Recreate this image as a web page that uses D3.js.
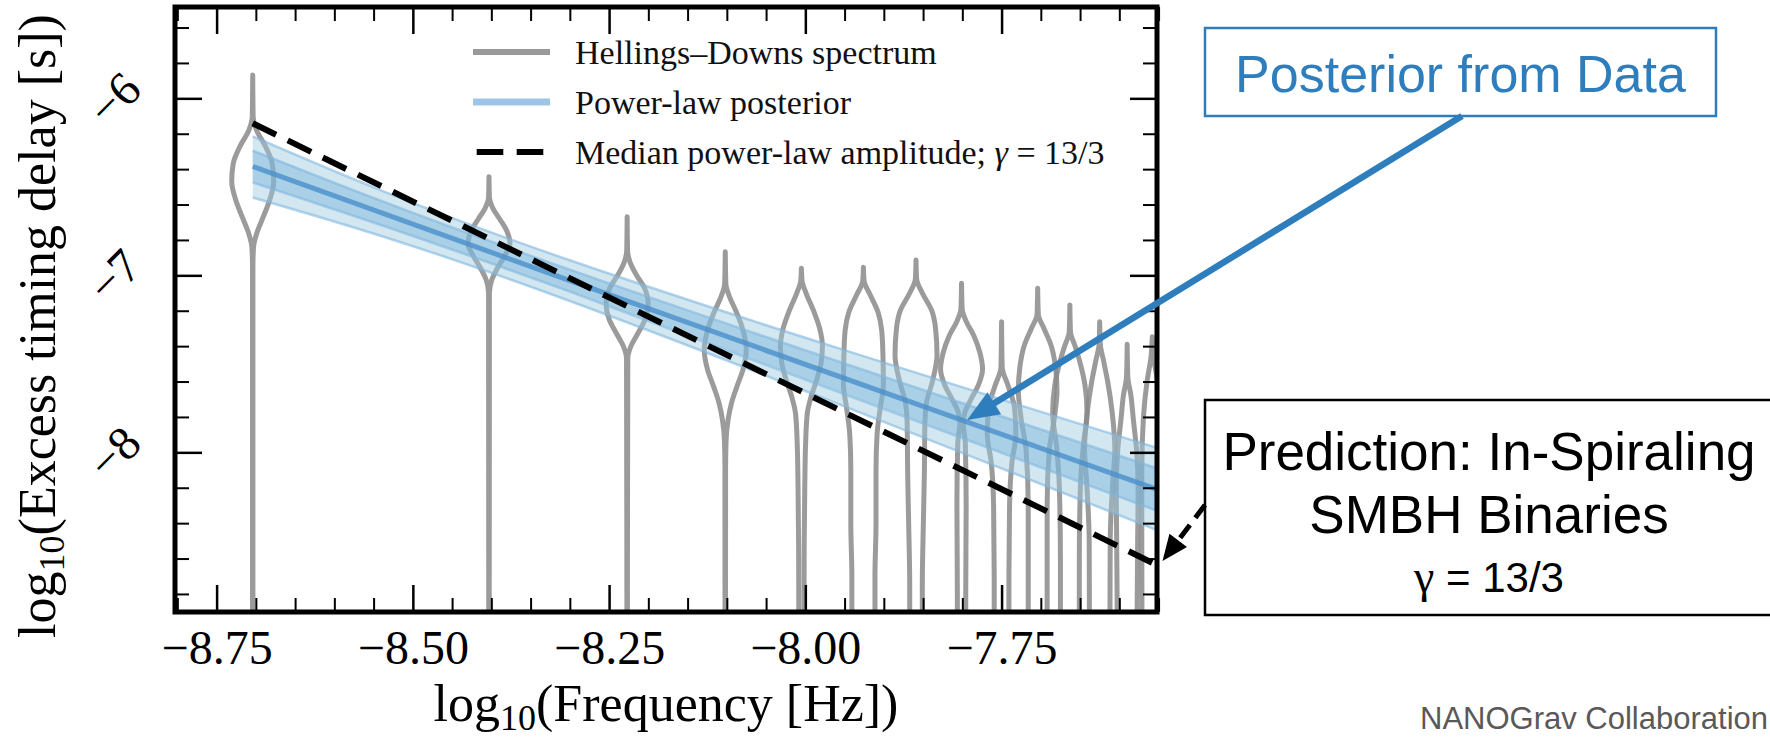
<!DOCTYPE html>
<html><head><meta charset="utf-8">
<script src="https://cdn.jsdelivr.net/npm/d3@7"></script>
<style>body{margin:0;background:#fff} svg{display:block}</style>
</head><body>
<svg id="chart" width="1770" height="740"></svg>
<script>
// ---------------- data ----------------
const violinFreqs = [-8.704, -8.403, -8.227, -8.102, -8.005, -7.926, -7.859, -7.801, -7.750, -7.704, -7.663, -7.625, -7.590, -7.558];
// each violin: [log10 delay, relative density]
const violinProfiles = [
  [[-5.868,0],[-6.10,0.02],[-6.18,0.18],[-6.27,0.6],[-6.37,0.93],[-6.47,1.0],[-6.57,0.82],[-6.67,0.5],[-6.76,0.2],[-6.84,0.04],[-6.95,0.01],[-9.3,0.01]],
  [[-6.443,0],[-6.56,0.02],[-6.62,0.18],[-6.68,0.5],[-6.75,0.85],[-6.82,1.0],[-6.89,0.75],[-6.96,0.4],[-7.03,0.12],[-7.10,0.02],[-9.3,0.01]],
  [[-6.669,0],[-6.86,0.02],[-6.93,0.15],[-7.0,0.45],[-7.07,0.82],[-7.16,1.0],[-7.25,0.85],[-7.33,0.5],[-7.40,0.18],[-7.47,0.03],[-9.3,0.01]],
  [[-6.867,0],[-7.05,0.03],[-7.12,0.2],[-7.2,0.5],[-7.3,0.82],[-7.42,1.0],[-7.53,0.85],[-7.63,0.55],[-7.72,0.3],[-7.82,0.13],[-7.93,0.04],[-8.1,0.015],[-9.3,0.01]],
  [[-6.96,0],[-7.03,0.03],[-7.1,0.22],[-7.2,0.58],[-7.3,0.87],[-7.4,1.0],[-7.5,0.93],[-7.6,0.7],[-7.69,0.45],[-7.78,0.28],[-7.95,0.2],[-8.2,0.16],[-8.6,0.13],[-9.3,0.12]],
  [[-6.955,0],[-7.03,0.03],[-7.11,0.32],[-7.21,0.7],[-7.31,0.87],[-7.45,0.93],[-7.62,0.95],[-7.75,0.8],[-7.9,0.65],[-8.1,0.6],[-8.4,0.6],[-8.7,0.55],[-9.3,0.55]],
  [[-6.913,0],[-7.02,0.03],[-7.1,0.3],[-7.2,0.75],[-7.3,0.93],[-7.45,1.0],[-7.6,0.78],[-7.72,0.5],[-7.84,0.42],[-8.1,0.4],[-8.4,0.35],[-8.75,0.3],[-9.3,0.3]],
  [[-7.045,0],[-7.19,0.03],[-7.26,0.22],[-7.34,0.58],[-7.44,0.88],[-7.53,1.0],[-7.62,0.8],[-7.7,0.45],[-7.77,0.17],[-7.83,0.08],[-7.95,0.18],[-8.3,0.22],[-8.8,0.2],[-9.3,0.2]],
  [[-7.262,0],[-7.52,0.03],[-7.62,0.3],[-7.75,0.62],[-7.9,0.68],[-8.05,0.5],[-8.3,0.38],[-8.7,0.35],[-9.3,0.35]],
  [[-7.073,0],[-7.22,0.03],[-7.3,0.3],[-7.4,0.65],[-7.52,0.85],[-7.65,0.92],[-7.8,0.8],[-7.99,0.55],[-8.3,0.45],[-8.7,0.45],[-9.3,0.45]],
  [[-7.167,0],[-7.32,0.03],[-7.4,0.25],[-7.5,0.5],[-7.62,0.72],[-7.78,0.82],[-7.95,0.65],[-8.2,0.5],[-8.6,0.45],[-9.3,0.45]],
  [[-7.262,0],[-7.39,0.03],[-7.48,0.18],[-7.6,0.38],[-7.78,0.6],[-7.98,0.72],[-8.17,0.62],[-8.5,0.5],[-9.3,0.48]],
  [[-7.39,0],[-7.57,0.03],[-7.68,0.18],[-7.82,0.3],[-7.99,0.45],[-8.2,0.52],[-8.5,0.5],[-9.3,0.45]],
  [[-7.347,0],[-7.45,0.05],[-7.6,0.25],[-7.8,0.42],[-8.1,0.5],[-8.5,0.5],[-9.3,0.48]]
];
// power-law posterior band (value at each band frequency)
const bandFreqs      = [-8.704, -8.30, -7.552];
const bandOuterHigh  = [-6.215, -6.915, -7.975];
const bandInnerHigh  = [-6.295, -6.968, -8.090];
const bandMedian     = [-6.385, -7.030, -8.210];
const bandInnerLow   = [-6.475, -7.092, -8.330];
const bandOuterLow   = [-6.560, -7.145, -8.440];
// median power-law amplitude, gamma = 13/3
const medianAmpFreqs  = [-8.704, -7.552];
const medianAmpValues = [-6.141, -8.637];
// ticks
const xMajorTicks = [-8.75, -8.50, -8.25, -8.00, -7.75];
const yMajorTicks = [-8, -7, -6];
const legendLabels = ["Hellings\u2013Downs spectrum", "Power-law posterior", "Median power-law amplitude; "];
// annotation arrow tips (data coords)
const posteriorTip  = [-7.794, -7.817];
const predictionTip = [-7.545, -8.614];

// ---------------- layout ----------------
const svg = d3.select("#chart");
svg.append("rect").attr("width",1770).attr("height",740).attr("fill","#fff");
const PL=175, PR=1157, PT=7, PB=612;
const x = d3.scaleLinear().domain([-8.803,-7.552]).range([PL,PR]);
const y = d3.scaleLinear().domain([-8.902,-5.484]).range([PB,PT]);
const SERIF = "'Liberation Serif','Times New Roman',serif";
const SANS = "'Liberation Sans',Arial,sans-serif";

svg.append("defs").append("clipPath").attr("id","pc")
  .append("rect").attr("x",PL).attr("y",PT).attr("width",PR-PL).attr("height",PB-PT);
const plot = svg.append("g").attr("clip-path","url(#pc)");

// violins
const VW = 21;
violinFreqs.forEach((f,i)=>{
  const cx = x(f);
  const area = d3.area().curve(d3.curveMonotoneY)
    .y(d=>y(d[0])).x0(d=>cx-d[1]*VW).x1(d=>cx+d[1]*VW);
  plot.append("path").attr("d",area(violinProfiles[i]))
    .attr("fill","none").attr("stroke","#8a8a8a").attr("stroke-opacity",0.85)
    .attr("stroke-width",5).attr("stroke-linejoin","round").attr("stroke-linecap","round");
});

// band
function bandPts(hi,lo){ return bandFreqs.map((f,i)=>({f,hi:hi[i],lo:lo[i]})); }
const bandArea = d3.area().curve(d3.curveNatural).x(d=>x(d.f)).y0(d=>y(d.lo)).y1(d=>y(d.hi));
plot.append("path").attr("d",bandArea(bandPts(bandOuterHigh,bandOuterLow)))
  .attr("fill","#9ecae1").attr("fill-opacity",0.45);
plot.append("path").attr("d",bandArea(bandPts(bandInnerHigh,bandInnerLow)))
  .attr("fill","#6baed6").attr("fill-opacity",0.4);
const bline = d3.line().curve(d3.curveNatural).x((d,i)=>x(bandFreqs[i])).y(d=>y(d));
[bandOuterHigh,bandInnerHigh,bandInnerLow,bandOuterLow].forEach(arr=>{
  plot.append("path").attr("d",bline(arr)).attr("fill","none")
    .attr("stroke","#7fb6e0").attr("stroke-width",2.5).attr("stroke-opacity",0.6);
});
plot.append("path").attr("d",bline(bandMedian)).attr("fill","none")
  .attr("stroke","#4a8fca").attr("stroke-width",5).attr("stroke-opacity",0.8);

// dashed median
plot.append("path").attr("d",d3.line()(medianAmpFreqs.map((f,i)=>[x(f),y(medianAmpValues[i])])))
  .attr("fill","none").attr("stroke","#000").attr("stroke-width",6).attr("stroke-dasharray","26,13");

// axes
function styleAxis(g,sw){ g.select(".domain").remove(); g.selectAll(".tick line").attr("stroke","#000").attr("stroke-width",sw); }
const xMinor = d3.range(-8.80,-7.549,0.05).map(v=>+v.toFixed(2)).filter(v=>!xMajorTicks.includes(v));
const yMinor = d3.range(-8.8,-5.49,0.2).map(v=>+v.toFixed(1)).filter(v=>!yMajorTicks.includes(v));
const gb = svg.append("g").attr("transform",`translate(0,${PB})`)
  .call(d3.axisBottom(x).tickValues(xMajorTicks).tickSize(-27).tickPadding(18).tickFormat(d3.format(".2f")));
styleAxis(gb,2.5);
gb.selectAll("text").attr("font-family",SERIF).attr("font-size",48).attr("fill","#000");
svg.append("g").attr("transform",`translate(0,${PB})`).call(d3.axisBottom(x).tickValues(xMinor).tickSize(-14).tickFormat("")).call(g=>styleAxis(g,2));
svg.append("g").attr("transform",`translate(0,${PT})`).call(d3.axisTop(x).tickValues(xMajorTicks).tickSize(-27).tickFormat("")).call(g=>styleAxis(g,2.5));
svg.append("g").attr("transform",`translate(0,${PT})`).call(d3.axisTop(x).tickValues(xMinor).tickSize(-14).tickFormat("")).call(g=>styleAxis(g,2));
svg.append("g").attr("transform",`translate(${PL},0)`).call(d3.axisLeft(y).tickValues(yMajorTicks).tickSize(-27).tickFormat("")).call(g=>styleAxis(g,2.5));
svg.append("g").attr("transform",`translate(${PL},0)`).call(d3.axisLeft(y).tickValues(yMinor).tickSize(-14).tickFormat("")).call(g=>styleAxis(g,2));
svg.append("g").attr("transform",`translate(${PR},0)`).call(d3.axisRight(y).tickValues(yMajorTicks).tickSize(-27).tickFormat("")).call(g=>styleAxis(g,2.5));
svg.append("g").attr("transform",`translate(${PR},0)`).call(d3.axisRight(y).tickValues(yMinor).tickSize(-14).tickFormat("")).call(g=>styleAxis(g,2));

// y tick labels (rotated)
const yfmt = d3.format("d");
yMajorTicks.forEach(v=>{
  const cy = y(v), cx = 114;
  svg.append("text").attr("x",cx).attr("y",cy).attr("text-anchor","middle").attr("dominant-baseline","central")
    .attr("transform",`rotate(-45,${cx},${cy})`).attr("font-family",SERIF).attr("font-size",48).text(yfmt(v));
});

// frame
svg.append("rect").attr("x",PL).attr("y",PT).attr("width",PR-PL).attr("height",PB-PT)
  .attr("fill","none").attr("stroke","#000").attr("stroke-width",5);

// axis titles
function title(sel, rest){
  sel.attr("font-family",SERIF).attr("font-size",52).attr("text-anchor","middle").attr("fill","#000");
  sel.append("tspan").text("log");
  sel.append("tspan").attr("font-size",36).attr("dy",9).text("10");
  sel.append("tspan").attr("dy",-9).text(rest);
}
title(svg.append("text").attr("x",(PL+PR)/2).attr("y",721), "(Frequency [Hz])");
title(svg.append("text").attr("transform","translate(55,326) rotate(-90)"), "(Excess timing delay [s])");

// legend
const lg = svg.append("g");
const rows = [52,102,152];
lg.append("line").attr("x1",473).attr("x2",550).attr("y1",rows[0]).attr("y2",rows[0]).attr("stroke","#999").attr("stroke-width",6);
lg.append("line").attr("x1",473).attr("x2",550).attr("y1",rows[1]).attr("y2",rows[1]).attr("stroke","#9fc5e6").attr("stroke-width",7);
lg.append("line").attr("x1",476.7).attr("x2",543.3).attr("y1",rows[2]).attr("y2",rows[2]).attr("stroke","#000").attr("stroke-width",6).attr("stroke-dasharray","26.6,13.4");
legendLabels.forEach((t,i)=>{
  const tx = lg.append("text").attr("x",575).attr("y",rows[i]+12).attr("font-family",SERIF).attr("font-size",34).attr("fill","#111").text(t);
  if(i===2){ tx.append("tspan").attr("font-style","italic").text("\u03B3"); tx.append("tspan").text(" = 13/3"); }
});

// annotations
function arrow(g,x1,y1,x2,y2,color,w,hl,hw,dash){
  const a = Math.atan2(y2-y1,x2-x1), c=Math.cos(a), s=Math.sin(a);
  const bx = x2-hl*c, by = y2-hl*s;
  const ln = g.append("line").attr("x1",x1).attr("y1",y1).attr("x2",bx+2*c).attr("y2",by+2*s)
    .attr("stroke",color).attr("stroke-width",w);
  if(dash) ln.attr("stroke-dasharray",dash);
  g.append("polygon").attr("points",`${x2},${y2} ${bx+hw*s},${by-hw*c} ${bx-hw*s},${by+hw*c}`).attr("fill",color);
}
const ann = svg.append("g");
const BLUE = "#2e7ebe";
ann.append("rect").attr("x",1205).attr("y",28).attr("width",511).attr("height",88).attr("fill","#fff").attr("stroke",BLUE).attr("stroke-width",2.5);
ann.append("text").attr("x",1460.5).attr("y",92).attr("text-anchor","middle").attr("font-family",SANS).attr("font-size",52).attr("fill",BLUE).text("Posterior from Data");
arrow(ann,1462,116,x(posteriorTip[0]),y(posteriorTip[1]),BLUE,6.5,32,13,null);

ann.append("rect").attr("x",1205).attr("y",400).attr("width",600).attr("height",215).attr("fill","#fff").attr("stroke","#000").attr("stroke-width",2.5);
ann.append("text").attr("x",1489).attr("y",470).attr("text-anchor","middle").attr("font-family",SANS).attr("font-size",53).attr("fill","#000").text("Prediction: In-Spiraling");
ann.append("text").attr("x",1489).attr("y",533).attr("text-anchor","middle").attr("font-family",SANS).attr("font-size",53).attr("fill","#000").text("SMBH Binaries");
const g3 = ann.append("text").attr("x",1489).attr("y",592).attr("text-anchor","middle").attr("font-family",SANS).attr("font-size",42).attr("fill","#000");
g3.append("tspan").attr("font-family",SERIF).attr("font-size",46).text("\u03B3");
g3.append("tspan").text(" = 13/3");
arrow(ann,1205,505,x(predictionTip[0]),y(predictionTip[1]),"#000",5,26,11,"16,9");

svg.append("text").attr("x",1420).attr("y",729).attr("font-family",SANS).attr("font-size",31).attr("fill","#595959").text("NANOGrav Collaboration");
</script></body></html>
